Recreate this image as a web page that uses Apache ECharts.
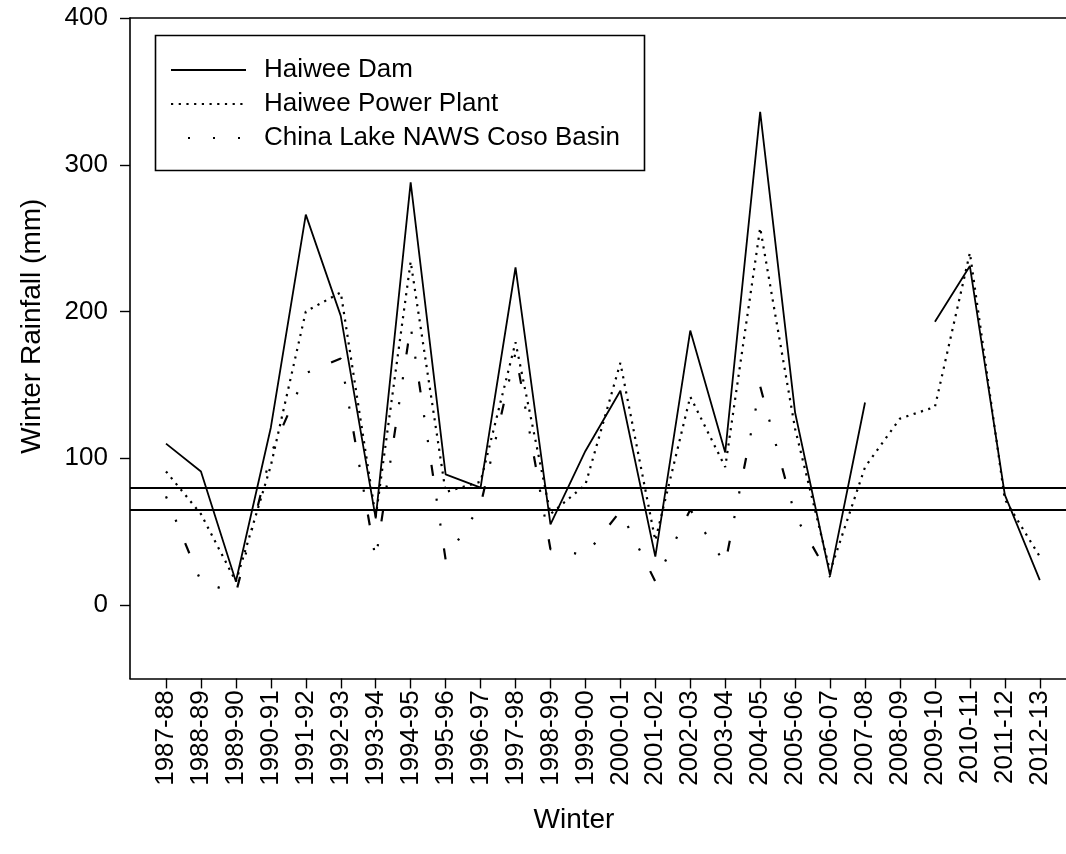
<!DOCTYPE html>
<html>
<head>
<meta charset="utf-8">
<script src="https://cdn.jsdelivr.net/npm/echarts@6/dist/echarts.min.js"></script>
<style>
html,body{margin:0;padding:0;background:#fff;}
#chart{width:1066px;height:854px;}
</style>
</head>
<body>
<div id="chart"></div>
<script>
const categories = ['1987-88','1988-89','1989-90','1990-91','1991-92','1992-93','1993-94','1994-95','1995-96','1996-97','1997-98','1998-99','1999-00','2000-01','2001-02','2002-03','2003-04','2004-05','2005-06','2006-07','2007-08','2008-09','2009-10','2010-11','2011-12','2012-13'];
const haiweeDam = [110, 91, 16, 121, 266, 197, 59, 288, 89, 80, 230, 55, 105, 146, 33, 187, 104, 336, 131, 20, 138, null, 193, 231, 75, 17];
const haiweePowerPlant = [91, 62, 16, 95, 200, 213, 60, 234, 77, 84, 179, 62, 82, 165, 44, 142, 94, 257, 120, 23, 94, 127, 135, 240, 72, 33];
const chinaLake = [74, 16, 8, 103, 158, 168, 31, 190, 31, 68, 172, 38, 34, 64, 16, 65, 28, 149, 61, 19, null, null, null, null, null, null];
const refLines = [80, 65];
const yTicks = [0, 100, 200, 300, 400];
const seriesNames = ['Haiwee Dam', 'Haiwee Power Plant', 'China Lake NAWS Coso Basin'];

const toPairs = arr => arr.map((v, i) => [i, v == null ? '-' : v]);
const xIdx = categories.map((c, i) => i);
const FONT = 'Liberation Sans, Arial, sans-serif';

const chart = echarts.init(document.getElementById('chart'), null, {renderer: 'canvas'});
const option = {
  animation: false,
  backgroundColor: '#fff',
  grid: {left: 130, right: 0, top: 18, bottom: 175.6},
  xAxis: [{
    type: 'value', min: -1.03, max: 25.75,
    splitLine: {show: false},
    axisLine: {show: true, onZero: false, lineStyle: {color: '#000', width: 1.6}},
    axisTick: {show: true, inside: false, length: 10, customValues: xIdx, lineStyle: {color: '#000', width: 1.4}},
    axisLabel: {customValues: xIdx, rotate: 90, margin: 12, color: '#000', fontSize: 26, fontFamily: FONT,
      formatter: v => categories[Math.round(v)] || ''},
    name: 'Winter', nameLocation: 'middle', nameGap: 128,
    nameTextStyle: {color: '#000', fontSize: 28, fontFamily: FONT, padding: [0, 48, 0, 0]}
  }, {
    type: 'value', position: 'top', min: -1.03, max: 25.75,
    splitLine: {show: false},
    axisLine: {show: true, onZero: false, lineStyle: {color: '#000', width: 1.6}},
    axisTick: {show: false}, axisLabel: {show: false}
  }],
  yAxis: {
    type: 'value', min: -50, max: 400,
    splitLine: {show: false},
    axisLine: {show: true, onZero: false, lineStyle: {color: '#000', width: 1.6}},
    axisTick: {show: true, inside: false, length: 10, customValues: yTicks, lineStyle: {color: '#000', width: 1.4}},
    axisLabel: {customValues: yTicks, margin: 22, color: '#000', fontSize: 26, fontFamily: FONT},
    name: 'Winter Rainfall (mm)', nameLocation: 'middle', nameGap: 84, nameRotate: 90,
    nameTextStyle: {color: '#000', fontSize: 28, fontFamily: FONT, padding: [0, 0, 0, 44]}
  },
  legend: {
    orient: 'vertical', left: 170, top: 57, padding: 0,
    itemWidth: 75, itemHeight: 14, itemGap: 8,
    itemStyle: {opacity: 0},
    textStyle: {color: '#000', fontSize: 26, fontFamily: FONT, lineHeight: 26, padding: [0, 0, 0, 13]},
    data: [
      {name: seriesNames[0]},
      {name: seriesNames[1]},
      {name: seriesNames[2], lineStyle: {type: [2, 23], dashOffset: -17}}
    ]
  },
  graphic: [{
    type: 'rect', left: 153, top: 33, z: 0, silent: true,
    shape: {width: 489, height: 135},
    style: {fill: 'none', stroke: '#000', lineWidth: 1.6}
  }],
  series: [
    {
      name: seriesNames[0], type: 'line', data: toPairs(haiweeDam),
      symbol: 'none', showSymbol: false, connectNulls: false,
      lineStyle: {color: '#000', width: 1.8},
      itemStyle: {color: '#000'},
      markLine: {
        silent: true, symbol: 'none', label: {show: false},
        lineStyle: {color: '#000', width: 1.8, type: 'solid'},
        data: refLines.map(v => ({yAxis: v}))
      }
    },
    {
      name: seriesNames[1], type: 'line', data: toPairs(haiweePowerPlant),
      symbol: 'none', showSymbol: false, connectNulls: false,
      lineStyle: {color: '#000', width: 2.2, type: [2.2, 5.5]},
      itemStyle: {color: '#000'}
    },
    {
      name: seriesNames[2], type: 'line', data: toPairs(chinaLake),
      symbol: 'none', showSymbol: false, connectNulls: false,
      lineStyle: {color: '#000', width: 2.2, type: [2.2, 23, 2.2, 23, 11, 23]},
      itemStyle: {color: '#000'}
    }
  ]
};
chart.setOption(option);
</script>
</body>
</html>
